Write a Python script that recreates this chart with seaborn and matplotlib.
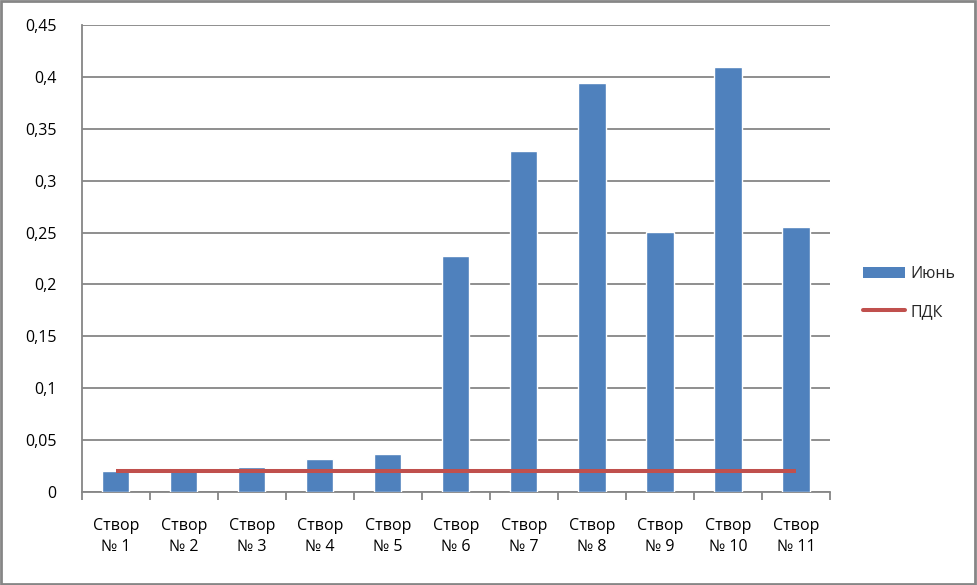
import numpy as np
import pandas as pd
import matplotlib
matplotlib.use("Agg")
import matplotlib.pyplot as plt
import seaborn as sns
from matplotlib.patches import Patch, Rectangle
from matplotlib.lines import Line2D
from matplotlib.ticker import FuncFormatter, MultipleLocator

categories = ["Створ\n№ 1", "Створ\n№ 2", "Створ\n№ 3", "Створ\n№ 4", "Створ\n№ 5",
              "Створ\n№ 6", "Створ\n№ 7", "Створ\n№ 8", "Створ\n№ 9", "Створ\n№ 10",
              "Створ\n№ 11"]
june = [0.020, 0.023, 0.024, 0.032, 0.037, 0.227, 0.329, 0.394, 0.251, 0.410, 0.255]
pdk = [0.02] * 11
series_names = ["Июнь", "ПДК"]

sns.set_theme(style="white")
plt.rcParams['font.family'] = ['Open Sans', 'DejaVu Sans']

BLUE = "#4F81BD"
RED = "#C0504D"
GRAY = "#868686"
FS = 11.5

fig = plt.figure(figsize=(9.77, 5.85), dpi=100)
ax = fig.add_axes([81.7 / 977, 1 - 492 / 585, (830 - 81.7) / 977, (492 - 25) / 585])

df = pd.DataFrame({"cat": categories, "val": june})
sns.barplot(data=df, x="cat", y="val", color=BLUE, saturation=1, width=0.4, ax=ax, zorder=3)
ax.plot(np.arange(len(categories)), pdk, color=RED, lw=2.9, zorder=4, solid_capstyle="butt")

ax.set_xlim(-0.5, len(categories) - 0.5)
ax.set_ylim(0, 0.45)
ax.yaxis.set_major_locator(MultipleLocator(0.05))
ax.yaxis.set_major_formatter(FuncFormatter(lambda v, p: ("%g" % round(v, 2)).replace(".", ",")))
ax.set_xlabel("")
ax.set_ylabel("")

ax.grid(axis="y", color=GRAY, lw=1.3, zorder=0)
ax.set_axisbelow(True)
for s in ["top", "right"]:
    ax.spines[s].set_visible(False)
for s in ["left", "bottom"]:
    ax.spines[s].set_color(GRAY)
    ax.spines[s].set_linewidth(1.3)

ax.set_xticks(np.arange(len(categories) + 1) - 0.5, minor=True)
ax.set_xticks(np.arange(len(categories)))
ax.set_xticklabels(categories, fontsize=FS, color="black", linespacing=1.35)
ax.tick_params(axis="x", which="major", length=0, pad=19)
ax.tick_params(axis="x", which="minor", length=6, width=1.3, color=GRAY, direction="out")
ax.tick_params(axis="y", length=6, width=1.3, color=GRAY, direction="out", pad=12,
               labelsize=FS, labelcolor="black")
ax.tick_params(axis="x", which="minor", bottom=True)

handles = [Patch(facecolor=BLUE, edgecolor="none"),
           Line2D([0], [0], color=RED, lw=2.9)]
fig.legend(handles, series_names, loc="center left", bbox_to_anchor=(855 / 977, 1 - 293 / 585),
           frameon=False, fontsize=FS, handlelength=2.6, handletextpad=0.35,
           labelspacing=1.35, borderpad=0)

fig.add_artist(Rectangle((0.001, 0.002), 0.997, 0.996, transform=fig.transFigure,
                         fill=False, edgecolor=GRAY, lw=2))

fig.savefig("out.png", dpi=100)
